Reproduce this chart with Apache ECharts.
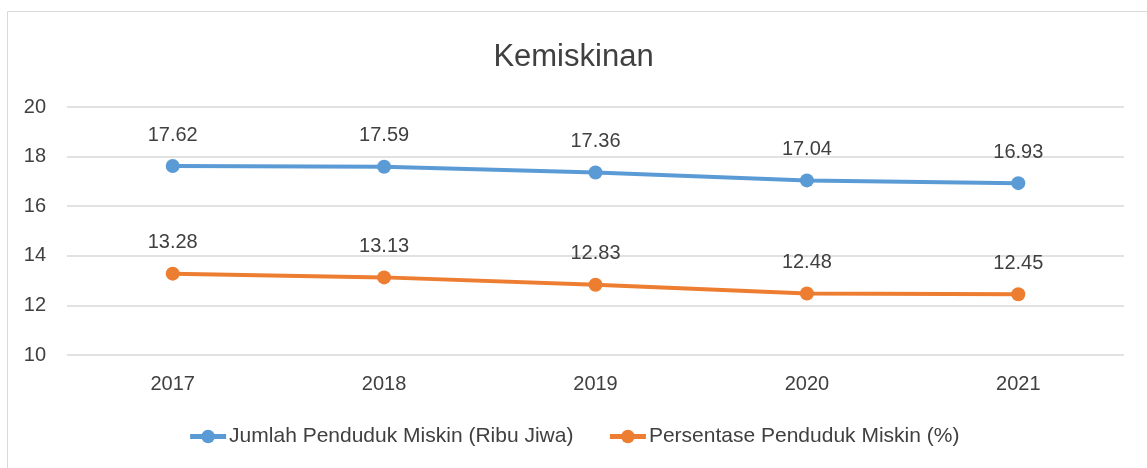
<!DOCTYPE html>
<html>
<head>
<meta charset="utf-8">
<script src="https://cdn.jsdelivr.net/npm/echarts@6/dist/echarts.min.js"></script>
<style>
  html, body { margin: 0; padding: 0; background: #fff; }
  #main { width: 1147px; height: 468px; }
</style>
</head>
<body>
<div id="main"></div>
<script>
var years = ['2017', '2018', '2019', '2020', '2021'];
var jumlahMiskin = [17.62, 17.59, 17.36, 17.04, 16.93];
var persenMiskin = [13.28, 13.13, 12.83, 12.48, 12.45];
var seriesNames = ['Jumlah Penduduk Miskin (Ribu Jiwa)', 'Persentase Penduduk Miskin (%)'];

var FONT = "'Liberation Sans Narrow', 'Arial Narrow', 'Liberation Sans', sans-serif";

function makeSeries(name, data, color) {
    return {
        name: name,
        type: 'line',
        data: data,
        symbol: 'circle',
        symbolSize: 14,
        lineStyle: { width: 4, color: color },
        itemStyle: { color: color },
        label: {
            show: true,
            position: 'top',
            distance: 14,
            fontFamily: FONT,
            fontSize: 20,
            color: '#404040'
        }
    };
}

var chart = echarts.init(document.getElementById('main'));
var option = {
    animation: false,
    textStyle: { fontFamily: FONT },
    title: {
        text: 'Kemiskinan',
        left: 'center',
        top: 37,
        textStyle: { fontFamily: FONT, fontSize: 31, fontWeight: 'normal', color: '#404040' }
    },
    graphic: [{
        type: 'rect',
        shape: { x: 7.5, y: 11.5, width: 1160, height: 480 },
        style: { fill: 'none', stroke: '#d9d9d9', lineWidth: 1 },
        silent: true,
        z: -1
    }],
    legend: {
        bottom: 16,
        left: 'center',
        itemWidth: 36,
        itemHeight: 17,
        itemGap: 34,
        lineStyle: { width: 5 },
        textStyle: { fontFamily: FONT, fontSize: 21, color: '#404040', padding: [0, 0, 0, -2] },
        data: seriesNames
    },
    grid: { left: 67, right: 23, top: 107, bottom: 113 },
    xAxis: {
        type: 'category',
        data: years,
        boundaryGap: true,
        axisLine: { show: false },
        axisTick: { show: false },
        axisLabel: { fontFamily: FONT, fontSize: 20, color: '#404040', margin: 19 }
    },
    yAxis: {
        type: 'value',
        min: 10,
        max: 20,
        interval: 2,
        axisLine: { show: false },
        axisTick: { show: false },
        axisLabel: { fontFamily: FONT, fontSize: 20, color: '#404040', margin: 21 },
        splitLine: { lineStyle: { color: '#d9d9d9', width: 1.5 } }
    },
    series: [
        makeSeries(seriesNames[0], jumlahMiskin, '#5b9bd5'),
        makeSeries(seriesNames[1], persenMiskin, '#ed7d31')
    ]
};
chart.setOption(option);
</script>
</body>
</html>
